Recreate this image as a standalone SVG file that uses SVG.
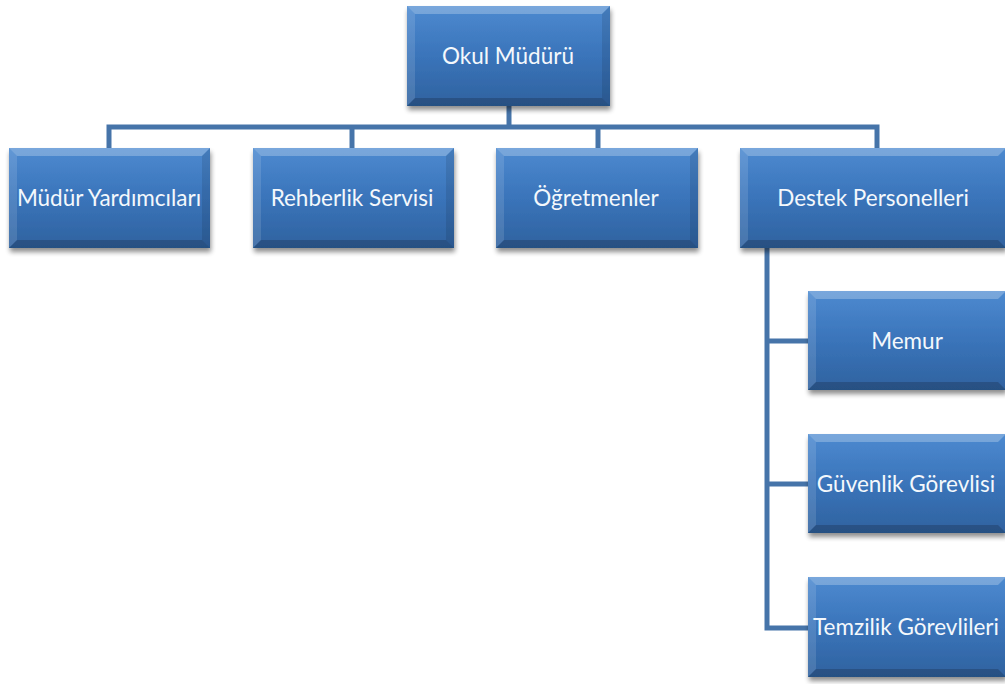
<svg xmlns="http://www.w3.org/2000/svg" width="1005" height="684" viewBox="0 0 1005 684">
<defs>
<linearGradient id="g" x1="0" y1="0" x2="0" y2="1">
<stop offset="0" stop-color="#4d8ad0"/>
<stop offset="0.5" stop-color="#3a74ba"/>
<stop offset="1" stop-color="#2f629f"/>
</linearGradient>
<filter id="sh" x="-10%" y="-10%" width="125%" height="130%">
<feGaussianBlur in="SourceAlpha" stdDeviation="2.5"/>
<feOffset dx="1" dy="4"/>
<feComponentTransfer><feFuncA type="linear" slope="0.45"/></feComponentTransfer>
<feMerge><feMergeNode/><feMergeNode in="SourceGraphic"/></feMerge>
</filter>
</defs>
<style>
.c{fill:none;stroke:#4674a9;stroke-width:5;stroke-linejoin:miter}
.b{fill:url(#g);filter:url(#sh)}
.t{fill:#ffffff;fill-opacity:0.25}
.l{fill:#ffffff;fill-opacity:0.12}
.d{fill:#000000;fill-opacity:0.18}
.r{fill:#000000;fill-opacity:0.1}
text{font-family:Lato,"Open Sans","Liberation Sans",sans-serif;font-size:22.5px;fill:#f4f8fc;text-anchor:middle;dominant-baseline:central}
</style>
<g id="connectors">
<polyline class="c" points="509,106 509,127"/>
<polyline class="c" points="109,148 109,127 877,127 877,148"/>
<polyline class="c" points="352,127 352,148"/>
<polyline class="c" points="598,127 598,148"/>
<polyline class="c" points="767,248 767,628 808,628"/>
<polyline class="c" points="767,341 808,341"/>
<polyline class="c" points="767,484 808,484"/>
</g>
<g id="n-okul">
<rect class="b" x="407" y="6" width="203" height="100"/>
<polygon class="t" points="407,6 610,6 602,14 415,14"/>
<polygon class="l" points="407,6 415,14 415,98 407,106"/>
<polygon class="d" points="407,106 415,98 602,98 610,106"/>
<polygon class="r" points="610,6 610,106 602,98 602,14"/>
<text x="508" y="55">Okul Müdürü</text>
</g>
<g id="n-yard">
<rect class="b" x="9" y="148" width="201" height="100"/>
<polygon class="t" points="9,148 210,148 202,156 17,156"/>
<polygon class="l" points="9,148 17,156 17,240 9,248"/>
<polygon class="d" points="9,248 17,240 202,240 210,248"/>
<polygon class="r" points="210,148 210,248 202,240 202,156"/>
<text x="109" y="197">Müdür Yardımcıları</text>
</g>
<g id="n-rehber">
<rect class="b" x="253" y="148" width="201" height="100"/>
<polygon class="t" points="253,148 454,148 446,156 261,156"/>
<polygon class="l" points="253,148 261,156 261,240 253,248"/>
<polygon class="d" points="253,248 261,240 446,240 454,248"/>
<polygon class="r" points="454,148 454,248 446,240 446,156"/>
<text x="352" y="197">Rehberlik Servisi</text>
</g>
<g id="n-ogret">
<rect class="b" x="496" y="148" width="202" height="100"/>
<polygon class="t" points="496,148 698,148 690,156 504,156"/>
<polygon class="l" points="496,148 504,156 504,240 496,248"/>
<polygon class="d" points="496,248 504,240 690,240 698,248"/>
<polygon class="r" points="698,148 698,248 690,240 690,156"/>
<text x="596" y="197">Öğretmenler</text>
</g>
<g id="n-destek">
<rect class="b" x="740" y="148" width="266" height="100"/>
<polygon class="t" points="740,148 1006,148 998,156 748,156"/>
<polygon class="l" points="740,148 748,156 748,240 740,248"/>
<polygon class="d" points="740,248 748,240 998,240 1006,248"/>
<text x="873" y="197">Destek Personelleri</text>
</g>
<g id="n-memur">
<rect class="b" x="808" y="291" width="198" height="99"/>
<polygon class="t" points="808,291 1006,291 998,299 816,299"/>
<polygon class="l" points="808,291 816,299 816,382 808,390"/>
<polygon class="d" points="808,390 816,382 998,382 1006,390"/>
<text x="907" y="340">Memur</text>
</g>
<g id="n-guven">
<rect class="b" x="808" y="434" width="198" height="99"/>
<polygon class="t" points="808,434 1006,434 998,442 816,442"/>
<polygon class="l" points="808,434 816,442 816,525 808,533"/>
<polygon class="d" points="808,533 816,525 998,525 1006,533"/>
<text x="906" y="483">Güvenlik Görevlisi</text>
</g>
<g id="n-temiz">
<rect class="b" x="808" y="577" width="198" height="100"/>
<polygon class="t" points="808,577 1006,577 998,585 816,585"/>
<polygon class="l" points="808,577 816,585 816,669 808,677"/>
<polygon class="d" points="808,677 816,669 998,669 1006,677"/>
<text x="906" y="626">Temzilik Görevlileri</text>
</g>
</svg>
